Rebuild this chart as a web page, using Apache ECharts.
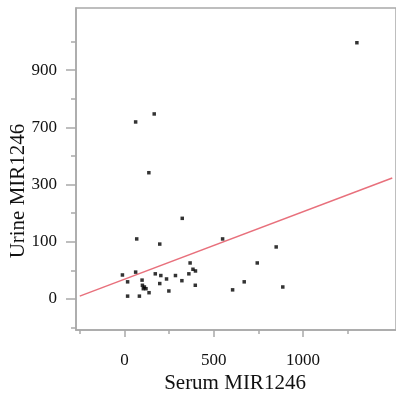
<!DOCTYPE html>
<html><head><meta charset="utf-8">
<script src="https://cdn.jsdelivr.net/npm/echarts@6/dist/echarts.min.js"></script>
<style>html,body{margin:0;padding:0;background:#fff}#c{width:396px;height:397px}</style>
</head><body><div id="c"></div>
<script>
// Serum MIR1246 (x) and Urine MIR1246 (y)
const serum = [1302,63,167,137,324,69,198,550,850,744,671,606,887,-11,63,18,18,84,99,101,112,106,121,138,173,198,204,236,249,286,322,361,368,384,398,397];
const urine = [996,719,747,383,182,110,96,110,91,63,30,16,21,42,47,30,5,5,33,24,21,18,18,11,44,27,41,35,14,41,32,44,63,52,49,24];
// fit line endpoints
const fitX = [-250, 1500];
const fitY = [5, 346];
// y axis tick labels (the axis is evenly spaced between these values)
const yTicks = [0, 100, 300, 700, 900];
const xMajor = [0, 500, 1000];
const xMinor = [-250, 250, 750, 1250];

function toU(v){
  const t=yTicks;
  if(v<=t[0]) return (v-t[0])/(t[1]-t[0]);
  for(let i=0;i<t.length-1;i++){ if(v<=t[i+1]) return i+(v-t[i])/(t[i+1]-t[i]); }
  const n=t.length-1; return n+(v-t[n])/(t[n]-t[n-1]);
}
const pts = serum.map((x,i)=>[x,toU(urine[i])]);
const line = fitX.map((x,i)=>[x,toU(fitY[i])]);
const yMajor = yTicks.map((_,i)=>i);
const yMinor = [-0.5,0.5,1.5,2.5,3.5,4.5];
const AX='#a9a9a9';
const font='"Liberation Serif","Times New Roman",serif';
const chart = echarts.init(document.getElementById('c'));
const xBase = {type:'value',min:-271,max:1521,position:'bottom',offset:0,splitLine:{show:false},
  axisLine:{onZero:false,lineStyle:{color:AX,width:1.5}}};
const yBase = {type:'value',min:-0.542,max:5.087,position:'left',offset:0,splitLine:{show:false},
  axisLine:{onZero:false,lineStyle:{color:AX,width:1.5}}};
chart.setOption({
  animation:false,
  grid:{left:76,right:-2,top:8,bottom:67,show:true,borderColor:AX,borderWidth:1.5,containLabel:false},
  xAxis:[
    Object.assign({},xBase,{axisTick:{customValues:xMajor,length:7,lineStyle:{color:AX,width:1.5}},
      axisLabel:{customValues:xMajor,margin:22,fontFamily:font,fontSize:17,color:'#111',formatter:function(v){return String(v);}}}),
    Object.assign({},xBase,{axisLine:{show:false,onZero:false},axisTick:{customValues:xMinor,length:4,lineStyle:{color:AX,width:1.5}},
      axisLabel:{show:false}})
  ],
  yAxis:[
    Object.assign({},yBase,{axisTick:{customValues:yMajor,length:10,lineStyle:{color:AX,width:1.5}},
      axisLabel:{customValues:yMajor,margin:19,fontFamily:font,fontSize:17,color:'#111',
        formatter:function(v){const i=Math.round(v);return yTicks[i]!==undefined?String(yTicks[i]):'';}}}),
    Object.assign({},yBase,{axisLine:{show:false,onZero:false},axisTick:{customValues:yMinor,length:5,lineStyle:{color:AX,width:1.5}},
      axisLabel:{show:false}})
  ],
  series:[
    {type:'line',data:line,xAxisIndex:0,yAxisIndex:0,showSymbol:false,symbol:'none',
      lineStyle:{color:'#e8707c',width:1.5},z:2},
    {type:'scatter',data:pts,xAxisIndex:0,yAxisIndex:0,symbol:'rect',symbolSize:3.5,
      itemStyle:{color:'#000'},z:3}
  ],
  graphic:[
    {type:'text',x:235,y:383,style:{text:'Serum MIR1246',font:'21px '+font,fill:'#111',textAlign:'center',textVerticalAlign:'middle'}},
    {type:'text',x:18,y:191,rotation:Math.PI/2,style:{text:'Urine MIR1246',font:'21px '+font,fill:'#111',textAlign:'center',textVerticalAlign:'middle'}}
  ]
});
</script></body></html>
